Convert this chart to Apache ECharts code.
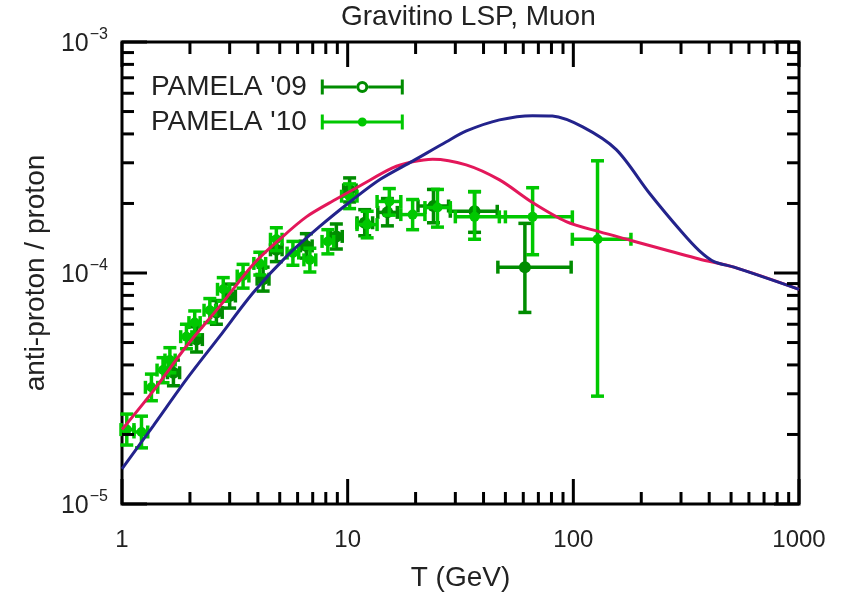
<!DOCTYPE html>
<html>
<head>
<meta charset="utf-8">
<script src="https://cdn.jsdelivr.net/npm/echarts@6/dist/echarts.min.js"></script>
<style>
  html, body { margin: 0; padding: 0; background: #fff; }
  #chart { width: 844px; height: 597px; }
</style>
</head>
<body>
<div id="chart"></div>
<script>
// PAMELA '09 antiproton/proton ratio: bin centre, bin edges, ratio and its error band
const t09    = [1.69, 2.14, 2.62, 3.00, 4.22, 4.83, 6.56, 8.91, 10.2, 11.9, 15.0, 24.0, 36.5, 61.0];
const t09Lo  = [1.59, 2.02, 2.47, 2.83, 3.97, 4.55, 6.18, 8.39, 9.60, 11.0, 13.6, 20.5, 28.5, 46.3];
const t09Hi  = [1.80, 2.27, 2.78, 3.18, 4.48, 5.12, 6.96, 9.46, 10.9, 12.9, 16.6, 28.0, 46.0, 97.8];
const r09    = [3.70e-5, 5.15e-5, 6.75e-5, 7.95e-5, 9.40e-5, 1.26e-4, 1.31e-4, 1.44e-4, 2.29e-4, 1.65e-4, 1.83e-4, 1.95e-4, 1.85e-4, 1.06e-4];
const r09Lo  = [3.25e-5, 4.55e-5, 6.00e-5, 7.05e-5, 8.35e-5, 1.12e-4, 1.16e-4, 1.27e-4, 2.03e-4, 1.45e-4, 1.60e-4, 1.65e-4, 1.50e-4, 6.75e-5];
const r09Hi  = [4.20e-5, 5.85e-5, 7.60e-5, 8.95e-5, 1.06e-4, 1.42e-4, 1.48e-4, 1.63e-4, 2.58e-4, 1.88e-4, 2.10e-4, 2.30e-4, 2.25e-4, 1.64e-4];

// PAMELA '10 antiproton/proton ratio
const t10    = [1.05, 1.22, 1.35, 1.52, 1.63, 1.93, 2.10, 2.45, 2.81, 3.44, 4.08, 4.83, 5.72, 6.80, 8.17, 10.2, 12.2, 15.3, 19.4, 25.0, 36.5, 66.0, 128];
const t10Lo  = [0.99, 1.13, 1.27, 1.43, 1.55, 1.82, 1.98, 2.31, 2.65, 3.24, 3.84, 4.55, 5.39, 6.40, 7.70, 9.40, 11.0, 13.5, 17.2, 22.0, 30.0, 47.0, 99.0];
const t10Hi  = [1.13, 1.30, 1.44, 1.61, 1.72, 2.04, 2.22, 2.60, 2.98, 3.65, 4.33, 5.12, 6.07, 7.22, 8.67, 11.0, 13.5, 17.2, 22.0, 28.5, 50.0, 99.0, 180];
const r10    = [2.10e-5, 2.05e-5, 3.20e-5, 3.80e-5, 4.20e-5, 5.30e-5, 6.10e-5, 6.90e-5, 8.50e-5, 9.70e-5, 1.10e-4, 1.40e-4, 1.22e-4, 1.14e-4, 1.37e-4, 2.15e-4, 1.62e-4, 2.04e-4, 1.79e-4, 1.92e-4, 1.75e-4, 1.75e-4, 1.40e-4];
const r10Lo  = [1.80e-5, 1.75e-5, 2.80e-5, 3.35e-5, 3.70e-5, 4.70e-5, 5.40e-5, 6.10e-5, 7.55e-5, 8.60e-5, 9.80e-5, 1.25e-4, 1.08e-4, 1.01e-4, 1.21e-4, 1.90e-4, 1.42e-4, 1.78e-4, 1.54e-4, 1.58e-4, 1.40e-4, 1.20e-4, 2.93e-5];
const r10Hi  = [2.45e-5, 2.40e-5, 3.65e-5, 4.30e-5, 4.75e-5, 6.00e-5, 6.85e-5, 7.75e-5, 9.55e-5, 1.09e-4, 1.23e-4, 1.57e-4, 1.37e-4, 1.28e-4, 1.54e-4, 2.43e-4, 1.85e-4, 2.32e-4, 2.08e-4, 2.30e-4, 2.25e-4, 2.34e-4, 3.06e-4];

// Predicted ratio, model curve A (red)
const curveAT = [1, 1.376, 1.933, 2.714, 3.81, 5.0, 6.56, 8.91, 11.3, 15.8, 19.4, 23.8, 33.5, 47.1, 65.9, 93, 130, 182, 361, 515, 1000];
const curveAR = [2.10e-5, 3.09e-5, 4.83e-5, 7.19e-5, 1.088e-4, 1.40e-4, 1.75e-4, 2.09e-4, 2.38e-4, 2.85e-4, 3.03e-4, 3.11e-4, 2.94e-4, 2.53e-4, 2.02e-4, 1.67e-4, 1.51e-4, 1.38e-4, 1.15e-4, 1.06e-4, 8.5e-5];
// Predicted ratio, model curve B (blue)
const curveBT = [1, 1.376, 1.933, 2.714, 3.81, 5.36, 7.52, 10.56, 14.0, 19.4, 27.4, 33.6, 47.1, 65.9, 80.7, 110, 155, 217, 303, 361, 420, 515, 1000];
const curveBR = [1.42e-5, 2.18e-5, 3.47e-5, 5.33e-5, 8.21e-5, 1.18e-4, 1.59e-4, 2.08e-4, 2.55e-4, 3.05e-4, 3.70e-4, 4.12e-4, 4.60e-4, 4.80e-4, 4.78e-4, 4.29e-4, 3.42e-4, 2.22e-4, 1.50e-4, 1.25e-4, 1.12e-4, 1.06e-4, 8.5e-5];

// Axis ticks
const xMajorTicks = [1, 10, 100, 1000];
const yMajorTicks = [1e-5, 1e-4, 1e-3];
const xMinorTicks = [];
[1, 10, 100].forEach(d => { for (let k = 2; k <= 9; k++) xMinorTicks.push(k * d); });
const yMinorTicks = [];
[1e-5, 1e-4].forEach(d => { for (let k = 2; k <= 9; k++) yMinorTicks.push(k * d); });

const FONT = '"Liberation Sans", Arial, Helvetica, sans-serif';
const C09 = '#008c00';
const C10 = '#00c800';
const CRED = '#e3175a';
const CBLUE = '#23238c';

function zip(a, b, c, d, e, f) {
  return a.map((v, i) => [v, b[i], c[i], d[i], e[i], f[i]]);
}

function errorBars(color, radius) {
  return function (params, api) {
    const c = api.coord([api.value(0), api.value(3)]);
    const l = api.coord([api.value(1), api.value(3)]);
    const r = api.coord([api.value(2), api.value(3)]);
    const top = api.coord([api.value(0), api.value(5)]);
    const bot = api.coord([api.value(0), api.value(4)]);
    const cap = 6.5;
    const seg = (x1, y1, x2, y2) => ({
      type: 'line', shape: { x1, y1, x2, y2 },
      style: { stroke: color, lineWidth: 3.5 }
    });
    return {
      type: 'group',
      children: [
        seg(l[0], c[1], r[0], c[1]),
        seg(c[0], top[1], c[0], bot[1]),
        seg(l[0], c[1] - cap, l[0], c[1] + cap),
        seg(r[0], c[1] - cap, r[0], c[1] + cap),
        seg(c[0] - cap, top[1], c[0] + cap, top[1]),
        seg(c[0] - cap, bot[1], c[0] + cap, bot[1]),
        { type: 'circle', shape: { cx: c[0], cy: c[1], r: radius }, style: { fill: color } }
      ]
    };
  };
}

// Inward ticks on all four sides of the frame
function xTickItem(params, api) {
  const cs = params.coordSys;
  const x = api.coord([api.value(0), 1e-4])[0];
  const len = api.value(1) ? 25 : 12;
  return {
    type: 'group',
    children: [
      { type: 'line', shape: { x1: x, y1: cs.y + cs.height, x2: x, y2: cs.y + cs.height - len }, style: { stroke: '#000', lineWidth: 3 } },
      { type: 'line', shape: { x1: x, y1: cs.y, x2: x, y2: cs.y + len }, style: { stroke: '#000', lineWidth: 3 } }
    ]
  };
}
function yTickItem(params, api) {
  const cs = params.coordSys;
  const y = api.coord([10, api.value(0)])[1];
  const len = api.value(1) ? 25 : 12;
  return {
    type: 'group',
    children: [
      { type: 'line', shape: { x1: cs.x, y1: y, x2: cs.x + len, y2: y }, style: { stroke: '#000', lineWidth: 3 } },
      { type: 'line', shape: { x1: cs.x + cs.width, y1: y, x2: cs.x + cs.width - len, y2: y }, style: { stroke: '#000', lineWidth: 3 } }
    ]
  };
}

const xTickData = xMajorTicks.map(v => [v, 1]).concat(xMinorTicks.map(v => [v, 0]));
const yTickData = yMajorTicks.map(v => [v, 1]).concat(yMinorTicks.map(v => [v, 0]));

const ICON_10 = 'path://M0,0H3V15H0Z M3,6H80V9H3Z M80,0H83V15H80Z M37,7.5A4.5,4.5 0 1 1 46,7.5A4.5,4.5 0 1 1 37,7.5Z';
const ICON_09 = 'path://M0,0H3V15H0Z M3,6H35.5V9H3Z M47.5,6H80V9H47.5Z M80,0H83V15H80Z M35.5,7.5A6,6 0 1 1 47.5,7.5A6,6 0 1 1 35.5,7.5Z M38.5,7.5A3,3 0 1 0 44.5,7.5A3,3 0 1 0 38.5,7.5Z';

const chart = echarts.init(document.getElementById('chart'), null, { renderer: 'canvas' });

chart.setOption({
  animation: false,
  backgroundColor: '#fff',
  textStyle: { fontFamily: FONT },
  title: {
    text: 'Gravitino LSP, Muon',
    left: 336, top: -2,
    textStyle: { fontFamily: FONT, fontSize: 28, fontWeight: 'normal', color: '#222' }
  },
  legend: {
    orient: 'vertical',
    left: 146, top: 68,
    align: 'right',
    itemWidth: 83, itemHeight: 15,
    itemGap: 7,
    selectedMode: false,
    textStyle: { fontFamily: FONT, fontSize: 28, color: '#222', padding: [0, 9, 0, 0] },
    data: [
      { name: "PAMELA '09", icon: ICON_09 },
      { name: "PAMELA '10", icon: ICON_10 }
    ]
  },
  grid: {
    left: 122, right: 45, top: 42, bottom: 92,
    show: true, borderColor: '#000', borderWidth: 3, backgroundColor: 'transparent'
  },
  xAxis: {
    type: 'log', logBase: 10, min: 1, max: 1000,
    name: 'T (GeV)', nameLocation: 'middle', nameGap: 60,
    nameTextStyle: { fontFamily: FONT, fontSize: 28, color: '#222' },
    axisLine: { show: false },
    axisTick: { show: false },
    splitLine: { show: false },
    axisLabel: {
      margin: 24, fontFamily: FONT, fontSize: 24, color: '#222',
      formatter: v => String(Math.round(v))
    }
  },
  yAxis: {
    type: 'log', logBase: 10, min: 1e-5, max: 1e-3,
    name: 'anti-proton / proton', nameLocation: 'middle', nameGap: 72,
    nameTextStyle: { fontFamily: FONT, fontSize: 28, color: '#222' },
    axisLine: { show: false },
    axisTick: { show: false },
    splitLine: { show: false },
    axisLabel: {
      margin: 14, color: '#222',
      formatter: v => {
        const e = Math.round(Math.log10(v));
        return '{b|10}{s|' + (e < 0 ? '\u2212' : '') + Math.abs(e) + '}';
      },
      rich: {
        b: { fontFamily: FONT, fontSize: 25, color: '#222', lineHeight: 30, verticalAlign: 'bottom' },
        s: { fontFamily: FONT, fontSize: 16, color: '#222', lineHeight: 30, verticalAlign: 'top', padding: [0, 0, 0, 1] }
      }
    }
  },
  series: [
    {
      name: "PAMELA '09", type: 'custom', renderItem: errorBars(C09, 6),
      itemStyle: { color: C09 }, encode: { x: 0, y: 3 },
      data: zip(t09, t09Lo, t09Hi, r09, r09Lo, r09Hi), z: 3
    },
    {
      name: "PAMELA '10", type: 'custom', renderItem: errorBars(C10, 5),
      itemStyle: { color: C10 }, encode: { x: 0, y: 3 },
      data: zip(t10, t10Lo, t10Hi, r10, r10Lo, r10Hi), z: 4
    },
    {
      name: 'curve A', type: 'line', showSymbol: false, smooth: 0.3,
      lineStyle: { color: CRED, width: 3 }, itemStyle: { color: CRED },
      data: curveAT.map((t, i) => [t, curveAR[i]]), z: 5
    },
    {
      name: 'curve B', type: 'line', showSymbol: false, smooth: 0.3,
      lineStyle: { color: CBLUE, width: 3 }, itemStyle: { color: CBLUE },
      data: curveBT.map((t, i) => [t, curveBR[i]]), z: 6
    },
    {
      name: 'x ticks', type: 'custom', renderItem: xTickItem, silent: true,
      encode: { x: 0 }, data: xTickData, z: 10
    },
    {
      name: 'y ticks', type: 'custom', renderItem: yTickItem, silent: true,
      encode: { y: 0 }, data: yTickData, z: 10
    }
  ]
});
</script>
</body>
</html>
